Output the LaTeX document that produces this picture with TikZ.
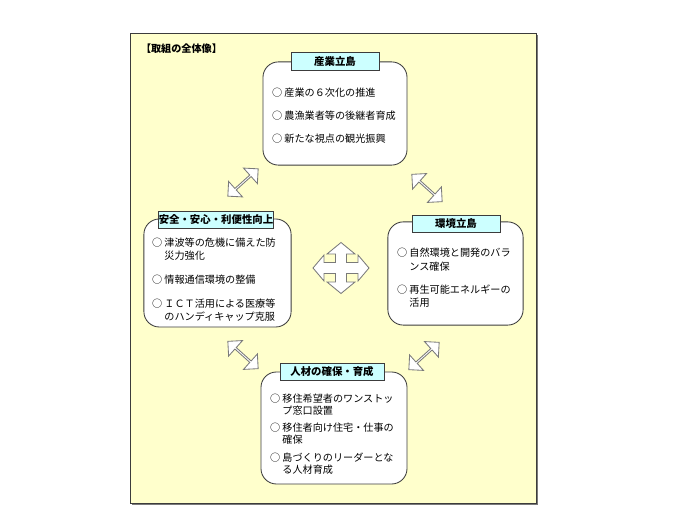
\documentclass[tikz,border=0pt]{standalone}
\usepackage{fontspec}
\setmainfont{Noto Sans CJK JP}
\usetikzlibrary{shapes.arrows}
\definecolor{frameyellow}{HTML}{FFFFCC}
\definecolor{tabcyan}{HTML}{CCFFFF}
\definecolor{edgegray}{HTML}{3C3C3C}
\definecolor{arrowgray}{HTML}{7A7A7A}

\newcommand{\cont}{\phantom{○ }}

\begin{document}
\begin{tikzpicture}[
  x=0.025cm, y=-0.025cm,
  every node/.style={inner sep=0pt, outer sep=0pt},
  frame/.style={draw=edgegray, fill=frameyellow, line width=0.5pt},
  island/.style={draw=edgegray, fill=white, line width=0.6pt,
                 rounded corners=11pt},
  tab/.style={draw=edgegray, fill=tabcyan, line width=0.6pt,
              font=\fontsize{7.4}{9}\selectfont\bfseries,
              minimum height=0.43cm},
  items/.style={anchor=north west, align=left,
                font=\fontsize{7.2}{9.2}\selectfont},
  dblarrow/.style={double arrow, draw=arrowgray, fill=white,
                   line width=0.6pt, minimum height=1.02cm,
                   minimum width=0.52cm,
                   double arrow head extend=0.1cm}
]
\useasboundingbox (0,0) rectangle (680,510);
\fill[white] (0,0) rectangle (680,510);

%% Frame
\draw[arrowgray, line width=1.4pt] (537,35) -- (537,504) -- (132,504);
\draw[frame] (130,33) rectangle (536,503);
\node[anchor=west, font=\fontsize{7.2}{9}\selectfont\bfseries] (title)
  at (141,49) {【取組の全体像】};

%% ── 産業立島 (top) ──────────────────────────────
\node[island, minimum width=3.6cm, minimum height=2.58cm] (sangyo)
  at (335,113.5) {};
\node[tab, minimum width=2.2cm] (sangyotab) at (335,61.5) {産業立島};
\node[items] (sangyoitems) at (272,88)
  {○ 産業の６次化の推進\\[7.1pt]
   ○ 農漁業者等の後継者育成\\[7.1pt]
   ○ 新たな視点の観光振興};

%% ── 安全・安心・利便性向上 (left) ──────────────
\node[island, minimum width=3.68cm, minimum height=2.7cm] (anzen)
  at (217.5,273) {};
\node[tab, minimum width=2.85cm] (anzentab) at (216,220) {安全・安心・利便性向上};
\node[items] (anzenitems) at (152,238)
  {○ 津波等の危機に備えた防\\
   \cont 災力強化\\[7.9pt]
   ○ 情報通信環境の整備\\[7.9pt]
   ○ ＩＣＴ活用による医療等\\
   \cont のハンディキャップ克服};

%% ── 環境立島 (right) ────────────────────────────
\node[island, minimum width=3.38cm, minimum height=2.58cm] (kankyo)
  at (455.5,273.5) {};
\node[tab, minimum width=2.2cm] (kankyotab) at (456,224) {環境立島};
\node[items] (kankyoitems) at (397,248)
  {○ 自然環境と開発のバラ\\[0.8pt]
   \cont ンス確保\\[7.1pt]
   ○ 再生可能エネルギーの\\
   \cont 活用};

%% ── 人材の確保・育成 (bottom) ──────────────────
\node[island, minimum width=3.65cm, minimum height=2.8cm] (jinzai)
  at (334,428) {};
\node[tab, minimum width=2.6cm] (jinzaitab) at (332,372) {人材の確保・育成};
\node[items, font=\fontsize{7.2}{8.4}\selectfont] (jinzaiitems) at (270,394)
  {○ 移住希望者のワンストッ\\
   \cont プ窓口設置\\[3.8pt]
   ○ 移住者向け住宅・仕事の\\
   \cont 確保\\[4.5pt]
   ○ 島づくりのリーダーとな\\
   \cont る人材育成};

%% Double arrows between the islands
\node[dblarrow, rotate=42]  (arrowtl) at (243,182.5) {};
\node[dblarrow, rotate=-42] (arrowtr) at (427,188) {};
\node[dblarrow, rotate=-42] (arrowbl) at (243,355) {};
\node[dblarrow, rotate=42]  (arrowbr) at (424,356) {};

%% Centre cross
\draw[draw=arrowgray, fill=white, line width=0.6pt, shift={(341,268)}]
  (28,0) -- (17,13) -- (17,5.5) -- (5.5,5.5) -- (5.5,14) -- (14,14) -- (0,25.5)
  -- (-14,14) -- (-5.5,14) -- (-5.5,5.5) -- (-17,5.5) -- (-17,13) -- (-28,0)
  -- (-17,-13) -- (-17,-5.5) -- (-5.5,-5.5) -- (-5.5,-14) -- (-14,-14) -- (0,-25.5)
  -- (14,-14) -- (5.5,-14) -- (5.5,-5.5) -- (17,-5.5) -- (17,-13) -- cycle;

\end{tikzpicture}
\end{document}
